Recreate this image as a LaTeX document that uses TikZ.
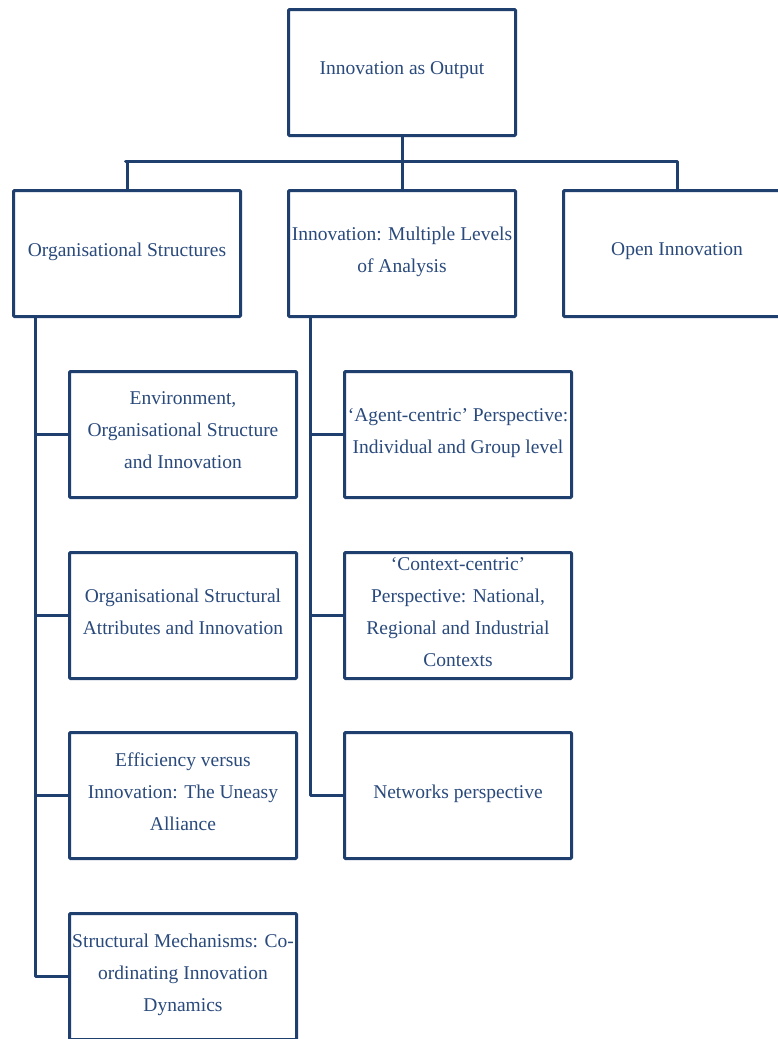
\documentclass[tikz,border=0pt]{standalone}
\usepackage{fontspec}
\setmainfont{Liberation Serif}
\definecolor{edge}{HTML}{1F3F6E}
\definecolor{label}{HTML}{2A4A7C}
\begin{document}
\begin{tikzpicture}[x=1pt,y=-1pt,
  box/.style={draw=edge, line width=3pt, rounded corners=1pt, fill=white,
    minimum width=227pt, minimum height=126pt, anchor=north west,
    inner sep=0pt, align=center, text=label, text depth=8pt,
    font=\fontsize{19.5}{32}\selectfont},
  link/.style={draw=edge, line width=3pt, line join=round}]
\useasboundingbox (0,0) rectangle (778,1039);
\clip (0,0) rectangle (778,1039);

% top level
\node[box] (top) at (287,8) {Innovation as Output};

% second level
\node[box] (os) at (12,189) {Organisational Structures};
\node[box] (ml) at (287,189) {Innovation: Multiple Levels\\of Analysis};
\node[box] (oi) at (562,189) {Open Innovation};

% organisational structures branch
\node[box] (e1) at (68,370) {Environment,\\Organisational Structure\\and Innovation};
\node[box] (e2) at (68,551) {Organisational Structural\\Attributes and Innovation};
\node[box] (e3) at (68,731) {Efficiency versus\\Innovation: The Uneasy\\Alliance};
\node[box] (e4) at (68,912) {Structural Mechanisms: Co-\\ordinating Innovation\\Dynamics};

% multiple levels branch
\node[box] (m1) at (343,370) {`Agent-centric' Perspective:\\Individual and Group level};
\node[box] (m2) at (343,551) {`Context-centric'\\Perspective: National,\\Regional and Industrial\\Contexts};
\node[box] (m3) at (343,731) {Networks perspective};

% connectors
\coordinate (busL) at (125.5,161);
\coordinate (spineL) at (35,316);
\coordinate (spineM) at (310,316);

\draw[link] (top.south) -- (ml.north);
\draw[link] (os.north) |- (busL) -| (oi.north);

\draw[link] (spineL) |- (e4.west);
\draw[link] (e1.west) -- (e1.west -| spineL);
\draw[link] (e2.west) -- (e2.west -| spineL);
\draw[link] (e3.west) -- (e3.west -| spineL);

\draw[link] (spineM) |- (m3.west);
\draw[link] (m1.west) -- (m1.west -| spineM);
\draw[link] (m2.west) -- (m2.west -| spineM);
\end{tikzpicture}
\end{document}
